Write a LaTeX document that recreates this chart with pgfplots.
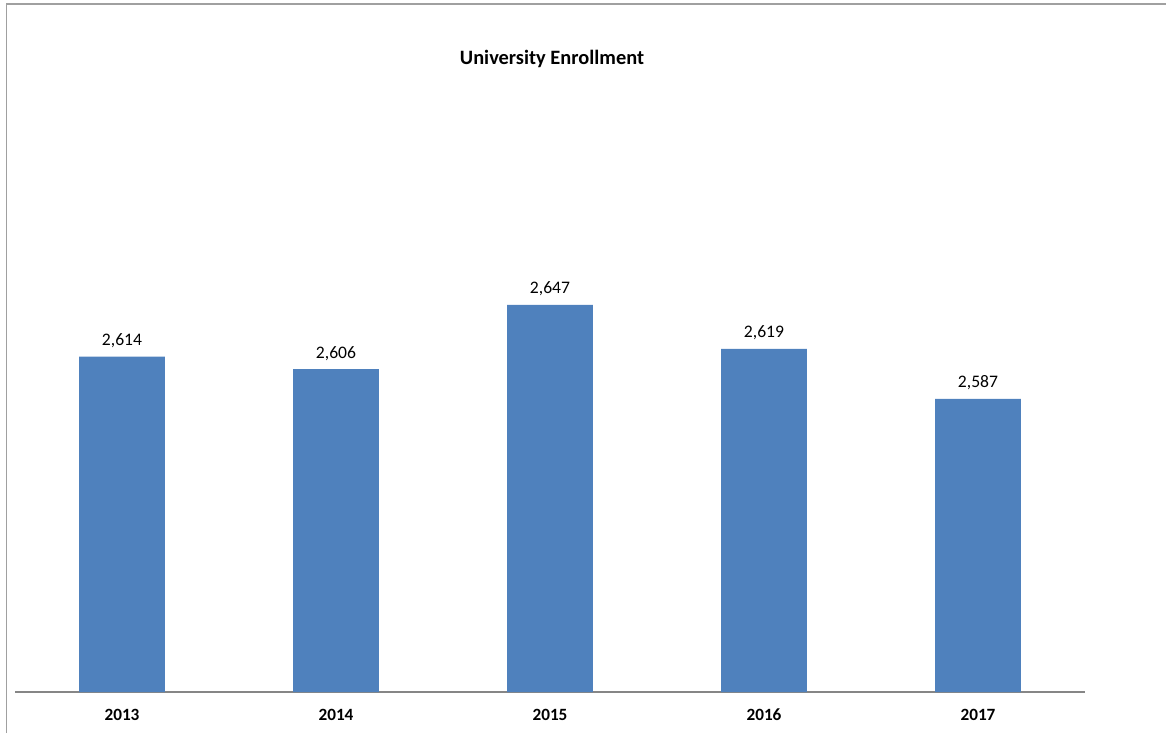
\documentclass[border=0pt]{standalone}
\usepackage{pgfplots}
\pgfplotsset{compat=1.18}
\usepackage{fontspec}
\setmainfont{Carlito}
\definecolor{barblue}{HTML}{4F81BD}
\definecolor{axisgray}{HTML}{868686}
\definecolor{framegray}{HTML}{A0A0A0}
\begin{document}
\begin{tikzpicture}[x=0.5pt,y=0.5pt]
\useasboundingbox (0,0) rectangle (1166,733);
\draw[framegray, line width=0.9pt] (6.5,0) -- (6.5,729) -- (1166,729);
\begin{axis}[
  at={(7.5pt,20.5pt)}, anchor=south west,
  width=535pt, height=297.7pt, scale only axis,
  xmin=-0.5, xmax=4.5, ymin=2400, ymax=2780,
  axis x line*=bottom, axis y line=none,
  x axis line style={axisgray, line width=0.7pt, -},
  xtick=data, xticklabels={2013,2014,2015,2016,2017},
  major tick length=0pt,
  xticklabel style={font=\fontsize{8.6}{10}\selectfont\bfseries, anchor=base, yshift=-14pt},
  ytick=\empty,
  /pgf/number format/assume math mode=true,
  title={University Enrollment},
  title style={font=\fontsize{10.2}{12}\selectfont\bfseries, anchor=base, xshift=1pt, yshift=10.1pt},
  ybar, bar width=0.4,
  nodes near coords,
  nodes near coords style={font=\fontsize{8.8}{10}\selectfont, anchor=base, yshift=5.5pt, inner sep=0pt,
    /pgf/number format/.cd, fixed, 1000 sep={,}},
]
\addplot[fill=barblue, draw=none] coordinates {(0,2614) (1,2606) (2,2647) (3,2619) (4,2587)};
\end{axis}
\end{tikzpicture}
\end{document}
